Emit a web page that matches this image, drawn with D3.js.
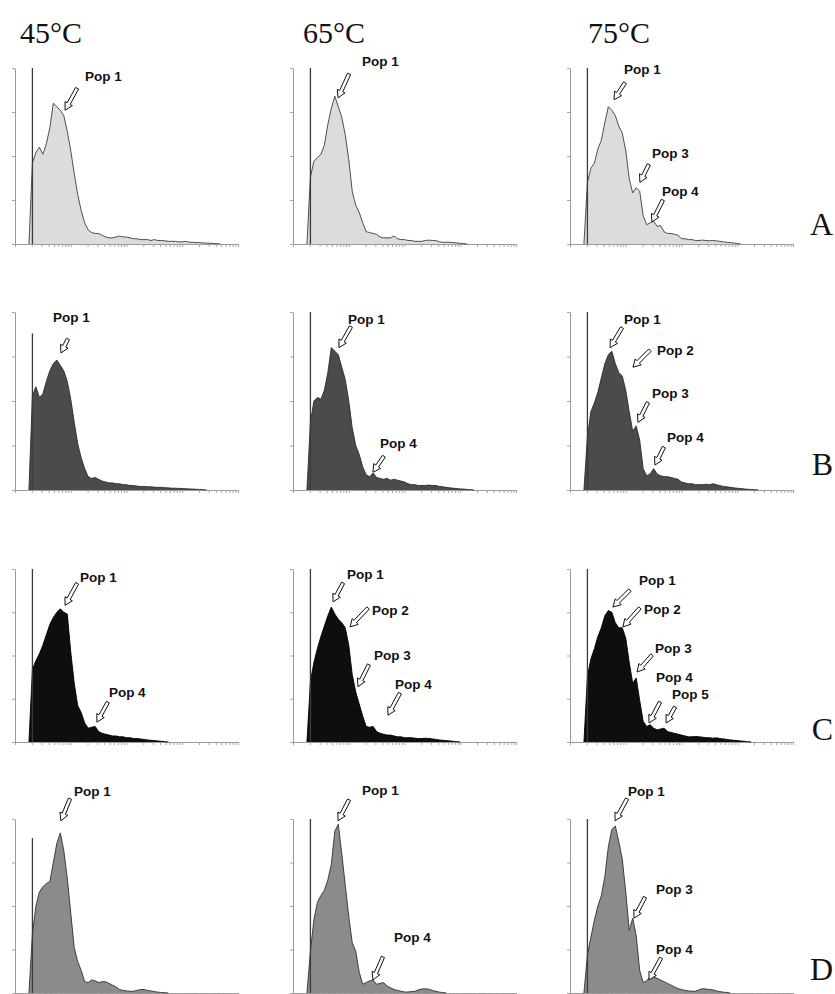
<!DOCTYPE html>
<html><head><meta charset="utf-8">
<script src="https://cdn.jsdelivr.net/npm/d3@7"></script>
<style>body{margin:0;background:#fff;}svg{display:block}</style>
</head><body>
<svg id="chart" width="835" height="994"></svg>
<script>
// ---------- DATA ----------
const temperatures = ["45°C", "65°C", "75°C"];
const treatments = ["A", "B", "C", "D"];
// histogram bins: channel = binStart + i*binWidth (1024-channel, 4-decade log)
const binStart = 64, binWidth = 16, channelMax = 1024, gateChannel = 80;
const yTickValues = [0, 25, 50, 75, 100];

const histA45 = [0,46,52,55,51,57,66,80,78,76,73,64,53,40,28,19,12,8,6.5,6,6,5,4,3.5,3.5,4,4.5,4,4,3.5,3,3,2.5,2.5,2.5,2,2.5,2,2,1.8,1.5,1.5,1.5,1.2,1.2,1.5,1,1,0.8,0.8,0.6,0.5,0.4,0.3,0.2,0];
const histA65 = [0,38,47,49,51,56,68,77,84,78,72,62,48,30,22,18,12,7,6.5,6,5.5,4,3.5,3.5,3.5,4.5,3,2.5,2.5,2,2,1.5,1.5,1.5,2,2.2,2,2,1.2,1,1,1,0.8,0.6,0.4,0.2,0];
const histA75 = [0,35,43,46,54,59,69,78,76,73,67,63,53,37,29,32,30,16,11,12,13,10,10.5,7,6,6,5.5,5,3,3,2.5,2.5,2,2,2.2,2,1.8,2,1.8,1.5,1.2,1,0.8,0.6,0.3,0];
const histB45 = [0,53,58,52,54,61,67,71,73,70,67,61,51,38,26,18,12,7.5,6.5,7,6,5,4.5,4,4,3.5,3.5,3,3,2.5,2.5,2.2,2,2,1.8,1.8,1.6,1.5,1.5,1.3,1.2,1,1,0.9,0.8,0.7,0.6,0.5,0.4,0.3,0.2,0];
const histB65 = [0,38,50,52,51,56,66,80,78,76,69,62,50,35,25,20,13,8.5,7.5,9.5,7,6.5,6,6.5,5.5,6,5.5,5,4.5,3.5,3,3,2.5,2.5,2.5,2.8,2.5,2.5,2,1.8,1.5,1.2,1,0.8,0.6,0.5,0.3,0.2,0];
const histB75 = [0,30,44,49,55,63,71,76,78,71,66,64,56,44,33,36,28,12,8,9,12,9,8,7.5,7.5,7,6.5,6,4.5,4,3.5,3.5,3,3,3,3.2,3,3.5,3,2.5,2,1.8,1.5,1.2,1,0.8,0.6,0.4,0.3,0.2,0];
const histC45 = [0,42,47,51,56,62,68,72,75,77,75,74,52,34,21,17,11,8,8.5,9,6,5,4.5,4,3.5,3.5,3,3,2.5,2.5,2,2,1.8,1.5,1.2,1,0.8,0.6,0.4,0.2,0];
const histC65 = [0,35,46,54,61,67,73,78,74,71,69,66,56,39,29,22,15,9,8.5,9,6,5,4.5,4,4,3.5,3,3,2.5,2.5,2.5,2.2,2,2,2.2,2,1.8,1.5,1.2,1,0.8,0.6,0.4,0.2,0];
const histC75 = [0,38,48,54,61,66,73,76,75,69,66,66,60,46,34,37,24,12,9,10,8,7,7.5,8,6,5.5,5,4.5,4,3.5,3,3,3.2,3,2.8,2.5,2.5,2.2,2.4,2,1.8,1.5,1.2,1,0.8,0.6,0.4,0.2,0];
const histD45 = [0,34,50,58,61,63,64,75,86,92,82,66,46,26,18,13,6.5,6,7.5,7,6,6.5,6.5,5.5,4.5,3.5,2,1.5,1.2,1,1,1.5,2,2,1.5,1.2,0.8,0.5,0.3,0.2,0];
const histD65 = [0,24,42,52,56,59,65,74,93,97,80,62,44,29,24,12,5,6,7,7.5,5,5.5,6,4,3,2,1.5,1,0.6,0.6,0.8,1,1.8,2.3,2.4,2.2,1.5,1,0.5,0.3,0];
const histD75 = [0,22,32,42,50,56,67,84,94,96,87,77,58,36,43,33,13,6,7,9.5,9,8.5,7.5,6.5,5.5,4.5,3.5,2.5,2,1.5,1.2,1,1,1.8,2.5,2.3,2,1.8,1.2,0.8,0.5,0.3,0];

// debris spike at the gate channel (% of full scale), per temperature
const spikeA = [100, 100, 100];
const spikeB = [88, 100, 100];
const spikeC = [100, 100, 100];
const spikeD = [89, 100, 100];

// annotations: [label, channel, level %]
const annA45 = [["Pop 1",230,76]];
const annA65 = [["Pop 1",207,83]];
const annA75 = [["Pop 1",202,82],["Pop 3",321,35],["Pop 4",376,12.5]];
const annB45 = [["Pop 1",211,77]];
const annB65 = [["Pop 1",211,80],["Pop 4",367,10]];
const annB75 = [["Pop 1",184,80],["Pop 2",289,69],["Pop 3",312,38],["Pop 4",390,14]];
const annC45 = [["Pop 1",230,79],["Pop 4",376,11.5]];
const annC65 = [["Pop 1",184,81],["Pop 2",262,66.5],["Pop 3",298,32],["Pop 4",436,15.5]];
const annC75 = [["Pop 1",197,78],["Pop 2",243,66.5],["Pop 3",308,40.5],["Pop 4",363,11],["Pop 5",441,11]];
const annD45 = [["Pop 1",211,99]];
const annD65 = [["Pop 1",207,99],["Pop 4",367,7.5]];
const annD75 = [["Pop 1",207,99],["Pop 3",294,43],["Pop 4",363,7.5]];

// ---------- LAYOUT ----------
const colX = [15, 293, 570];
const plotW = 223;
const rowTop = [68, 312, 569, 819];
const rowBase = [244, 490, 742, 993];
const headerX = [20, 303, 588];
const letterBase = [235, 475, 740, 980];
const fills = ["#dcdcdc", "#4b4b4b", "#0e0e0e", "#8b8b8b"];
const strokes = ["#3c3c3c", "#2a2a2a", "#000000", "#303030"];
// arrow tail offset (dx,dy) from tip, label offset (lx,ly) from tip
const layA45 = [[12,-22,20,-33]];
const layA65 = [[11,-24,24,-35]];
const layA75 = [[11,-17,10,-29],[9,-18,12,-28],[11,-22,10,-30]];
const layB45 = [[7,-14,-8,-35]];
const layB65 = [[12,-21,9,-27],[11,-16,7,-28]];
const layB75 = [[12,-20,14,-27],[17,-17,24,-16],[10,-20,14,-28],[9,-18,12,-27]];
const layC45 = [[12,-22,15,-27],[11,-20,12,-29]];
const layC65 = [[10,-19,14,-26],[18,-19,22,-16],[11,-22,16,-30],[12,-22,7,-30]];
const layC75 = [[17,-17,26,-26],[17,-19,21,-17],[15,-17,18,-22],[11,-21,7,-45],[9,-16,6,-28]];
const layD45 = [[9,-22,13,-28]];
const layD65 = [[11,-21,24,-29],[10,-23,21,-42]];
const layD75 = [[12,-22,13,-28],[11,-21,22,-28],[12,-22,7,-30]];

const hists = [[histA45,histA65,histA75],[histB45,histB65,histB75],[histC45,histC65,histC75],[histD45,histD65,histD75]];
const spikes = [spikeA, spikeB, spikeC, spikeD];
const anns = [[annA45,annA65,annA75],[annB45,annB65,annB75],[annC45,annC65,annC75],[annD45,annD65,annD75]];
const lays = [[layA45,layA65,layA75],[layB45,layB65,layB75],[layC45,layC65,layC75],[layD45,layD65,layD75]];

const svg = d3.select("#chart");
svg.append("rect").attr("width",835).attr("height",994).attr("fill","#fff");

function arrowPoints(x0, y0, x1, y1) {
  const dx = x1 - x0, dy = y1 - y0, L = Math.hypot(dx, dy);
  const ux = dx / L, uy = dy / L, nx = -uy, ny = ux;
  const sw = 1.7, hw = 4.2, hl = 7.5;
  const bx = x1 - ux * hl, by = y1 - uy * hl;
  return [
    [x0 + nx*sw, y0 + ny*sw], [bx + nx*sw, by + ny*sw], [bx + nx*hw, by + ny*hw],
    [x1, y1],
    [bx - nx*hw, by - ny*hw], [bx - nx*sw, by - ny*sw], [x0 - nx*sw, y0 - ny*sw]
  ];
}

// headers
temperatures.forEach((t, c) => {
  svg.append("text").attr("x", headerX[c]).attr("y", 43)
    .attr("font-family", "'Liberation Serif','Times New Roman',serif")
    .attr("font-size", 30).attr("fill", "#111").text(t);
});
treatments.forEach((t, r) => {
  svg.append("text").attr("x", 833).attr("y", letterBase[r]).attr("text-anchor", "end")
    .attr("font-family", "'Liberation Serif','Times New Roman',serif")
    .attr("font-size", 32).attr("fill", "#111").text(t);
});

treatments.forEach((t, r) => {
  temperatures.forEach((tc, c) => {
    const g = svg.append("g");
    const x = d3.scaleLinear().domain([0, channelMax]).range([colX[c], colX[c] + plotW]);
    const xl = d3.scaleLog().domain([1, 1e4]).range(x.range());
    const y = d3.scaleLinear().domain([0, 100]).range([rowBase[r], rowTop[r]]);

    // axes
    const xa = g.append("g").attr("transform", `translate(0,${rowBase[r]})`)
      .call(d3.axisBottom(xl).tickValues(xl.ticks()).tickSize(3).tickSizeOuter(0).tickFormat(""));
    const ya = g.append("g").attr("transform", `translate(${colX[c]},0)`)
      .call(d3.axisLeft(y).tickValues(yTickValues).tickSize(3).tickSizeOuter(0).tickFormat(""));
    [xa, ya].forEach(a => {
      a.select(".domain").attr("stroke", "#9a9a9a").attr("stroke-width", 1);
      a.selectAll(".tick line").attr("stroke", "#a5a5a5");
    });

    const data = hists[r][c];
    const bx = (d, i) => x(binStart + i * binWidth);
    g.append("path").datum(data)
      .attr("d", d3.area().x(bx).y0(y(0)).y1(d => y(d)))
      .attr("fill", fills[r]);
    g.append("path").datum(data)
      .attr("d", d3.line().x(bx).y(d => y(d)))
      .attr("fill", "none").attr("stroke", strokes[r]).attr("stroke-width", 0.9);

    // debris spike
    g.append("line")
      .attr("x1", x(gateChannel)).attr("x2", x(gateChannel))
      .attr("y1", y(0)).attr("y2", y(spikes[r][c]))
      .attr("stroke", "#3a3a3a").attr("stroke-width", 1.3);

    // annotations
    anns[r][c].forEach((a, k) => {
      const [lab, ch, lev] = a;
      const [dx, dy, lx, ly] = lays[r][c][k];
      const tx = x(ch), ty = y(lev);
      g.append("polygon")
        .attr("points", arrowPoints(tx + dx, ty + dy, tx, ty).map(p => p.join(",")).join(" "))
        .attr("fill", "#fff").attr("stroke", "#111").attr("stroke-width", 1);
      g.append("text").attr("x", tx + lx).attr("y", ty + ly)
        .attr("dominant-baseline", "middle")
        .attr("font-family", "'Liberation Sans',Arial,sans-serif")
        .attr("font-weight", "bold").attr("font-size", 13.5).attr("fill", "#111")
        .text(lab);
    });
  });
});
</script>
</body></html>
